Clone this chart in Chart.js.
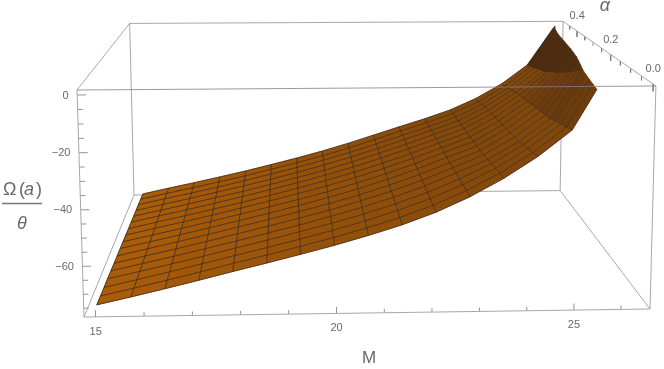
<!DOCTYPE html>
<html>
<head>
<meta charset="utf-8">
<style>html,body{margin:0;padding:0;background:#fff}canvas{display:block}</style>
<script src="https://cdn.jsdelivr.net/npm/chart.js@4"></script>
</head>
<body>
<canvas id="c" width="664" height="369"></canvas>
<script>
// Mesh coordinates
const mValues = [15,15.71,16.42,17.13,17.84,18.55,19.26,19.97,20.68,21.39,22.1,22.81,23.52,24.23,24.94,25.65,26.36];
const alphaValues = [0,0.03125,0.0625,0.09375,0.125,0.15625,0.1875,0.21875,0.25,0.28125,0.3125,0.34375,0.375,0.40625,0.4375,0.46875,0.5];
// Omega(a)/theta: one row per M value, one entry per alpha value
const omegaByM = [
[-75.1,-75.3,-75.5,-75.6,-75.8,-76,-76.2,-76.3,-76.5,-76.7,-76.9,-77,-77.2,-77.4,-77.5,-77.7,-77.9],
[-72.4,-72.6,-72.8,-72.9,-73.1,-73.3,-73.5,-73.7,-73.9,-74,-74.2,-74.4,-74.6,-74.8,-74.9,-75.1,-75.3],
[-69.6,-69.8,-70,-70.2,-70.4,-70.6,-70.8,-71,-71.2,-71.4,-71.6,-71.8,-72,-72.2,-72.4,-72.6,-72.8],
[-66.7,-66.9,-67.1,-67.4,-67.6,-67.8,-68,-68.2,-68.5,-68.7,-68.9,-69.1,-69.3,-69.5,-69.8,-70,-70.2],
[-63.7,-63.9,-64.2,-64.4,-64.7,-64.9,-65.1,-65.4,-65.6,-65.8,-66.1,-66.3,-66.6,-66.8,-67,-67.3,-67.5],
[-60.8,-61,-61.3,-61.5,-61.8,-62,-62.2,-62.5,-62.7,-62.9,-63.2,-63.4,-63.7,-63.9,-64.1,-64.4,-64.6],
[-57.8,-58,-58.3,-58.5,-58.8,-59,-59.2,-59.5,-59.7,-59.9,-60.2,-60.4,-60.7,-60.9,-61.1,-61.4,-61.6],
[-54.7,-54.9,-55.2,-55.4,-55.6,-55.9,-56.1,-56.3,-56.6,-56.8,-57,-57.2,-57.5,-57.7,-57.9,-58.2,-58.4],
[-51.3,-51.5,-51.8,-52,-52.2,-52.4,-52.7,-52.9,-53.1,-53.3,-53.6,-53.8,-54,-54.2,-54.5,-54.7,-54.9],
[-47.6,-47.8,-48,-48.3,-48.5,-48.7,-48.9,-49.1,-49.3,-49.6,-49.8,-50,-50.2,-50.4,-50.7,-50.9,-51.1],
[-43.2,-43.5,-43.7,-44,-44.2,-44.5,-44.7,-45,-45.3,-45.5,-45.8,-46,-46.3,-46.5,-46.8,-47,-47.3],
[-37.8,-38.2,-38.6,-39,-39.3,-39.7,-40.1,-40.4,-40.7,-41.1,-41.4,-41.8,-42.1,-42.5,-42.9,-43.2,-43.6],
[-31.3,-32,-32.7,-33.4,-34.2,-34.8,-35.4,-35.9,-36.3,-36.7,-37.1,-37.5,-37.9,-38.3,-38.7,-39.1,-39.5],
[-23.6,-24.5,-25.4,-26.3,-27.3,-27.9,-28.4,-29,-29.5,-30,-30.5,-31,-31.6,-32.2,-33,-33.6,-34.2],
[-14.3,-15.3,-16.4,-17.5,-18.6,-19.3,-19.9,-20.5,-21,-21.7,-22.5,-23,-23.8,-24.7,-25.6,-26.6,-27.5],
[6,4.5,3,1.5,0,-2,-4,-6.3,-8,-10,-11.3,-12.9,-14.4,-15.4,-16.6,-17.7,-18.7],
[20,19,18,17,16,15,14,13,12,11,10,9,8,6.5,4.5,2,-1.5]
];
// Ticks
const mMajorTicks = [15,20,25];
const mMinorTicks = [16,17,18,19,21,22,23,24,26];
const omegaMajorTicks = [0,-20,-40,-60];
const omegaMinorTicks = [-5,-10,-15,-25,-30,-35,-45,-50,-55,-65,-70,-75];
const alphaMajorTicks = [0,0.2,0.4];
const alphaMinorTicks = [0.05,0.1,0.15,0.25,0.3,0.35,0.45];
const mRange = [14.76,26.62], alphaRange = [-0.0112,0.4977], omegaRange = [-78.15,1.71];
const axisTitleM = 'M', axisTitleAlpha = '\u03b1';

// Perspective view of the plot box
function project(M,a,W){
  const u=(M-mRange[0])/(mRange[1]-mRange[0]);
  const v=(a-alphaRange[0])/(alphaRange[1]-alphaRange[0]);
  const w=(W-omegaRange[0])/(omegaRange[1]-omegaRange[0]);
  const d=1+0.01825*u+0.332*v-0.0225*w;
  return {x:(84+577.86*u+94.5*v-8.73*w)/d, y:(317-2.36*u-57.3*v-229.02*w)/d};
}
const clamp01=t=>Math.max(0,Math.min(1,t));
const cross=(p,q)=>{const t=(0-p[2])/(q[2]-p[2]);return [p[0]+t*(q[0]-p[0]),p[1]+t*(q[1]-p[1]),0];};

// Surface is cut where Omega reaches zero
function clipTop(poly){
  const out=[];
  for(let k=0;k<poly.length;k++){
    const p=poly[k], q=poly[(k+1)%poly.length];
    const pin=p[2]<=0, qin=q[2]<=0;
    if(pin) out.push(p);
    if(pin!==qin) out.push(cross(p,q));
  }
  return out;
}
function clipSegment(p,q){
  const pin=p[2]<=0, qin=q[2]<=0;
  if(pin&&qin) return [p,q];
  if(!pin&&!qin) return null;
  return pin?[p,cross(p,q)]:[cross(p,q),q];
}
const line=(pts,color,width)=>({type:'scatter',showLine:true,data:pts,borderColor:color,borderWidth:width,pointRadius:0,fill:false,tension:0});

const boxColor='rgb(158,158,158)';
const front=[],mesh=[],cells=[],back=[];
const [m0,m1]=mRange,[a0,a1]=alphaRange,[w0,w1]=omegaRange;
const edge=(A,B)=>[project(...A),project(...B)];
const shade=(i,j,avg)=>clamp01(0.34*Math.min(1,i/12)+clamp01((avg+20)/18)*(0.2+0.55*(j+0.5)/16));
const vertex=(i,j)=>[mValues[i],alphaValues[j],omegaByM[i][j]];

// Front top edge passes over the surface
front.push(line(edge([m0,a0,w1],[m1,a0,w1]),'rgb(130,130,130)',0.8));

// Surface fills, nearest first so that they paint last
for(let j=0;j<alphaValues.length-1;j++){
  for(let i=mValues.length-2;i>=0;i--){
    const poly=clipTop([vertex(i,j),vertex(i+1,j),vertex(i+1,j+1),vertex(i,j+1)]);
    if(poly.length<3) continue;
    const pts=poly.map(p=>project(...p));
    pts.push(pts[0]);
    const avg=poly.reduce((s,p)=>s+p[2],0)/poly.length;
    const f=shade(i,j,avg);
    const c=[170+(52-170)*f,92+(30-92)*f,8+(14-8)*f].map(Math.round);
    const fillColor='rgb('+c.join(',')+')';
    const ds=line(pts,fillColor,0.6);
    ds.fill='shape';
    ds.backgroundColor=fillColor;
    cells.push(ds);
  }
}

// Mesh lines lie on top of all fills
function addMeshSegment(p,q,i,j){
  const s=clipSegment(p,q);
  if(!s) return;
  const f=shade(i,j,(s[0][2]+s[1][2])/2);
  mesh.push(line(s.map(v=>project(...v)),'rgba(58,42,32,'+(0.9-0.35*f).toFixed(3)+')',0.9));
}
for(let i=0;i<mValues.length;i++)
  for(let j=0;j<alphaValues.length-1;j++)
    addMeshSegment(vertex(i,j),vertex(i,j+1),Math.min(i,15),j);
for(let j=0;j<alphaValues.length;j++)
  for(let i=0;i<mValues.length-1;i++)
    addMeshSegment(vertex(i,j),vertex(i+1,j),i,Math.min(j,15));

// Box edges and ticks
[[[m0,a1,w1],[m1,a1,w1]],[[m0,a1,w0],[m1,a1,w0]],[[m0,a1,w0],[m0,a1,w1]],[[m1,a1,w0],[m1,a1,w1]],
 [[m0,a0,w1],[m0,a1,w1]],[[m1,a0,w1],[m1,a1,w1]],[[m0,a0,w0],[m0,a1,w0]],[[m1,a0,w0],[m1,a1,w0]],
 [[m0,a0,w0],[m1,a0,w0]],[[m0,a0,w0],[m0,a0,w1]],[[m1,a0,w0],[m1,a0,w1]]]
 .forEach(e=>back.push(line(edge(e[0],e[1]),boxColor,0.9)));
const wSpan=w1-w0,mSpan=m1-m0;
const tick=(A,B)=>back.push(line(edge(A,B),'rgb(120,120,120)',0.8));
mMajorTicks.forEach(m=>tick([m,a0,w0],[m,a0,w0+0.03*wSpan]));
mMinorTicks.forEach(m=>tick([m,a0,w0],[m,a0,w0+0.018*wSpan]));
omegaMajorTicks.forEach(W=>tick([m0,a0,W],[m0+0.015*mSpan,a0,W]));
omegaMinorTicks.forEach(W=>tick([m0,a0,W],[m0+0.009*mSpan,a0,W]));
alphaMajorTicks.forEach(a=>tick([m1,a,w1],[m1,a,w1-0.032*wSpan]));
alphaMinorTicks.forEach(a=>tick([m1,a,w1],[m1,a,w1-0.02*wSpan]));

const labelsPlugin={id:'labels3d',afterDraw(chart){
  const {ctx,scales:{x,y}}=chart;
  const px=p=>({x:x.getPixelForValue(p.x),y:y.getPixelForValue(p.y)});
  const col='rgb(105,105,105)';
  ctx.save();
  ctx.fillStyle=col;
  ctx.textBaseline='middle';
  ctx.font='11px "Liberation Sans"';
  ctx.textAlign='center';
  mMajorTicks.forEach(m=>{const p=px(project(m,a0,w0));ctx.fillText(String(m),p.x,p.y+14.8);});
  alphaMajorTicks.forEach(a=>{const p=px(project(m1,a,w1));ctx.fillText(a.toFixed(1),p.x,p.y-15);});
  ctx.textAlign='right';
  omegaMajorTicks.forEach(W=>{const p=px(project(m0,a0,W));ctx.fillText(W===0?'0':'\u2212'+Math.abs(W),p.x-8.5,p.y+0.6);});
  // Axis titles
  ctx.textAlign='center';
  ctx.font='17px "Liberation Sans"';
  ctx.fillText(axisTitleM,369,358);
  ctx.font='italic 18px "Liberation Sans"';
  ctx.fillText(axisTitleAlpha,605,6);
  // Omega(a)/theta as a stacked fraction
  ctx.textAlign='left';
  ctx.font='18px "Liberation Sans"';
  ctx.fillText('\u03a9',3,190);
  ctx.fillText('(',19,190);
  ctx.font='italic 18px "Liberation Sans"';
  ctx.fillText('a',24,190);
  ctx.font='18px "Liberation Sans"';
  ctx.fillText(')',36,190);
  ctx.textAlign='center';
  ctx.font='italic 18px "Liberation Sans"';
  ctx.fillText('\u03b8',22,224);
  ctx.strokeStyle='rgb(120,120,120)';
  ctx.lineWidth=1.4;
  ctx.beginPath();ctx.moveTo(2,203.5);ctx.lineTo(42,203.5);ctx.stroke();
  ctx.restore();
}};

new Chart(document.getElementById('c'),{
  type:'scatter',
  data:{datasets:[...front,...mesh,...cells,...back]},
  options:{
    responsive:false,animation:false,
    layout:{padding:0},
    plugins:{legend:{display:false},tooltip:{enabled:false},title:{display:false}},
    scales:{
      x:{type:'linear',display:false,min:0,max:664},
      y:{type:'linear',display:false,min:0,max:369,reverse:true}
    }
  },
  plugins:[labelsPlugin]
});
</script>
</body>
</html>
